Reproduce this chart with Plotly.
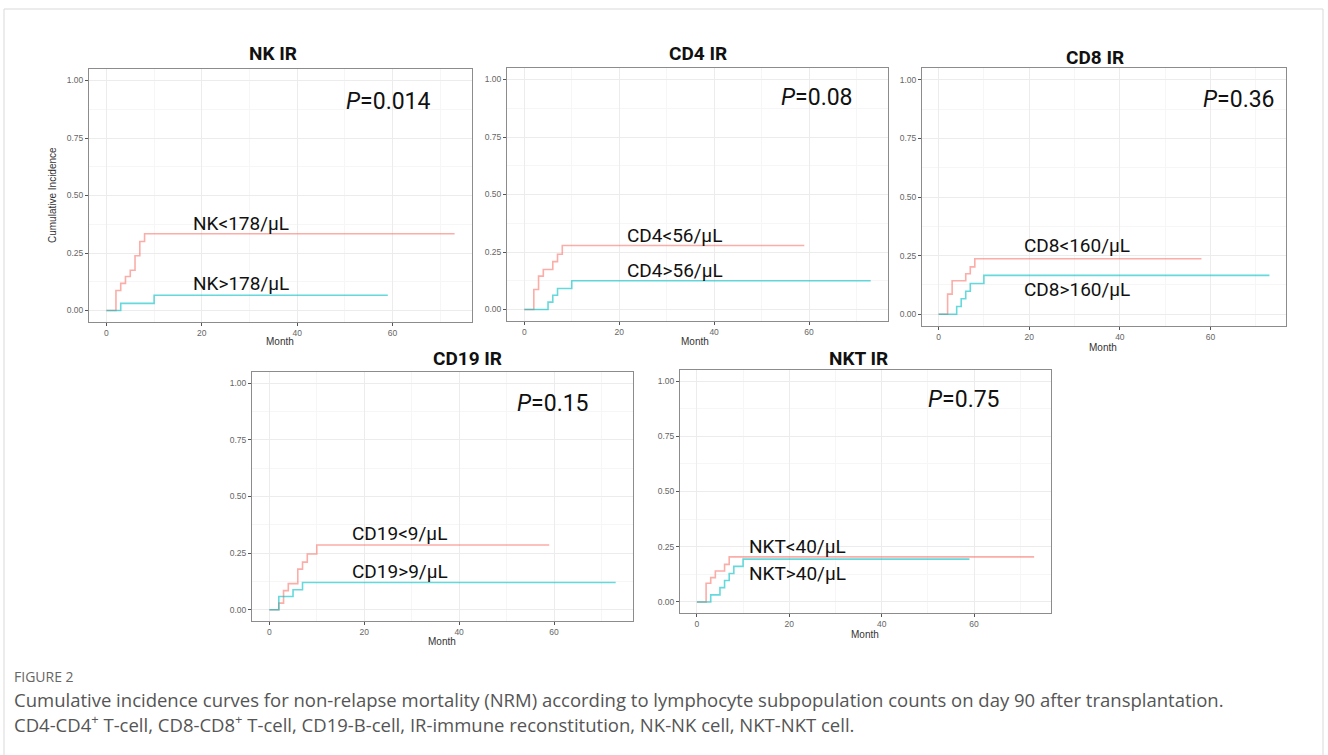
import plotly.graph_objects as go

W, H = 1328, 755

# Panel titles and group labels
panel_titles = ["NK IR", "CD4 IR", "CD8 IR", "CD19 IR", "NKT IR"]
p_values = ["0.014", "0.08", "0.36", "0.15", "0.75"]
low_labels = ["NK<178/μL", "CD4<56/μL", "CD8<160/μL", "CD19<9/μL", "NKT<40/μL"]
high_labels = ["NK>178/μL", "CD4>56/μL", "CD8>160/μL", "CD19>9/μL", "NKT>40/μL"]

# Cumulative incidence step curves (month, incidence) — low-count group
nk_low_t = [0, 2, 3, 4, 5, 6, 7, 8, 73]
nk_low_ci = [0, 0.087, 0.118, 0.148, 0.175, 0.238, 0.300, 0.334, 0.334]
cd4_low_t = [0, 2, 3, 4, 6, 7, 8, 59]
cd4_low_ci = [0, 0.087, 0.145, 0.174, 0.208, 0.240, 0.278, 0.278]
cd8_low_t = [0, 2, 3, 6, 7, 8, 58]
cd8_low_ci = [0, 0.086, 0.143, 0.173, 0.202, 0.237, 0.237]
cd19_low_t = [0, 2, 3, 4, 6, 7, 8, 10, 59]
cd19_low_ci = [0, 0.029, 0.084, 0.115, 0.179, 0.210, 0.246, 0.286, 0.286]
nkt_low_t = [0, 2, 3, 4, 6, 7, 73]
nkt_low_ci = [0, 0.085, 0.110, 0.140, 0.170, 0.204, 0.204]

# High-count group
nk_high_t = [0, 3, 10, 59]
nk_high_ci = [0, 0.031, 0.066, 0.066]
cd4_high_t = [0, 5, 6, 7, 10, 73]
cd4_high_ci = [0, 0.032, 0.062, 0.091, 0.125, 0.125]
cd8_high_t = [0, 4, 5, 6, 7, 10, 73]
cd8_high_ci = [0, 0.033, 0.066, 0.098, 0.131, 0.166, 0.166]
cd19_high_t = [0, 2, 5, 7, 73]
cd19_high_ci = [0, 0.058, 0.088, 0.120, 0.120]
nkt_high_t = [0, 3, 5, 6, 7, 8, 10, 59]
nkt_high_ci = [0, 0.032, 0.065, 0.097, 0.129, 0.161, 0.194, 0.194]

x_ticks = [0, 20, 40, 60]
y_ticks = [0, 0.25, 0.5, 0.75, 1.0]
y_tick_text = ["0.00", "0.25", "0.50", "0.75", "1.00"]

low_series = [(nk_low_t, nk_low_ci), (cd4_low_t, cd4_low_ci), (cd8_low_t, cd8_low_ci),
              (cd19_low_t, cd19_low_ci), (nkt_low_t, nkt_low_ci)]
high_series = [(nk_high_t, nk_high_ci), (cd4_high_t, cd4_high_ci), (cd8_high_t, cd8_high_ci),
               (cd19_high_t, cd19_high_ci), (nkt_high_t, nkt_high_ci)]

# Panel boxes in pixels: (left, top, right, bottom)
boxes = [(89, 69, 472, 322), (507, 68, 888, 321), (922, 68, 1286, 326),
         (252, 372, 633, 621), (680, 370, 1051, 613)]
title_pos = [(273, 53), (698, 53), (1095, 57), (467, 358), (858, 358)]
month_pos = [(280, 342), (695, 341), (1103, 347), (442, 641), (865, 634)]
# Label anchors in data units: (x, y_low, y_high, p_x, p_y)
label_pos = [(17.8, 0.38, 0.118, 49.9, 0.909),
             (21.2, 0.323, 0.171, 53.7, 0.923),
             (18.5, 0.293, 0.106, 57.9, 0.917),
             (16.9, 0.335, 0.169, 51.7, 0.912),
             (10.8, 0.253, 0.128, 49.5, 0.917)]

RED = "rgba(248,118,109,0.6)"
CYAN = "rgba(0,191,196,0.6)"
TICK_FONT = dict(family="Liberation Sans, Arial", size=8.5, color="#666666")

fig = go.Figure()
annotations = []

for i in range(5):
    ax = "" if i == 0 else str(i + 1)
    xa, ya = "x" + ax, "y" + ax
    l, t, r, b = boxes[i]
    fig.update_layout(**{
        "xaxis" + ax: dict(
            domain=[l / W, r / W], anchor=ya, range=[-3.65, 76.65],
            tickvals=x_ticks, ticks="outside", ticklen=3, tickcolor="#555555",
            tickfont=TICK_FONT, showgrid=True, gridcolor="#ececec", gridwidth=1,
            minor=dict(dtick=10, tick0=10, showgrid=True, gridcolor="#f6f6f6", ticks=""),
            showline=True, linecolor="#8c8c8c", linewidth=1, mirror=True,
            zeroline=False, fixedrange=True),
        "yaxis" + ax: dict(
            domain=[1 - b / H, 1 - t / H], anchor=xa, range=[-0.05, 1.05],
            tickvals=y_ticks, ticktext=y_tick_text, ticks="outside", ticklen=3,
            tickcolor="#555555", tickfont=TICK_FONT, showgrid=True,
            gridcolor="#ececec", gridwidth=1,
            minor=dict(dtick=0.25, tick0=0.125, showgrid=True, gridcolor="#f6f6f6", ticks=""),
            showline=True, linecolor="#8c8c8c", linewidth=1, mirror=True,
            zeroline=False, fixedrange=True),
    })
    lt, lc = low_series[i]
    ht, hc = high_series[i]
    fig.add_trace(go.Scatter(x=lt, y=lc, mode="lines", line=dict(color=RED, width=1.6, shape="hv"),
                             xaxis=xa, yaxis=ya, showlegend=False, hoverinfo="skip"))
    fig.add_trace(go.Scatter(x=ht, y=hc, mode="lines", line=dict(color=CYAN, width=1.6, shape="hv"),
                             xaxis=xa, yaxis=ya, showlegend=False, hoverinfo="skip"))

    tx, ty = title_pos[i]
    annotations.append(dict(text="<b>" + panel_titles[i] + "</b>", x=tx / W, y=1 - ty / H,
                            xref="paper", yref="paper", showarrow=False, xanchor="center",
                            yanchor="middle", font=dict(family="Roboto", size=19, color="#111111")))
    mx, my = month_pos[i]
    annotations.append(dict(text="Month", x=mx / W, y=1 - my / H, xref="paper", yref="paper",
                            showarrow=False, xanchor="center", yanchor="middle",
                            font=dict(family="Liberation Sans, Arial", size=10, color="#333333")))
    gx, gy_low, gy_high, px, py = label_pos[i]
    for lab, gy in ((low_labels[i], gy_low), (high_labels[i], gy_high)):
        annotations.append(dict(text=lab, x=gx, y=gy, xref=xa, yref=ya, showarrow=False,
                                xanchor="left", yanchor="middle",
                                font=dict(family="Roboto", size=19, color="#111111")))
    annotations.append(dict(text="<i>P</i>=" + p_values[i], x=px, y=py, xref=xa, yref=ya,
                            showarrow=False, xanchor="left", yanchor="middle",
                            font=dict(family="Roboto", size=23, color="#111111")))

annotations.append(dict(text="Cumulative Incidence", x=52 / W, y=1 - 195 / H, xref="paper",
                        yref="paper", showarrow=False, textangle=-90, xanchor="center",
                        yanchor="middle",
                        font=dict(family="Liberation Sans, Arial", size=10, color="#333333")))

# Caption block
annotations.append(dict(text="FIGURE 2", x=12 / W, y=1 - 676 / H, xref="paper", yref="paper",
                        showarrow=False, xanchor="left", yanchor="middle",
                        font=dict(family="Open Sans", size=14, color="#666666")))
annotations.append(dict(
    text="Cumulative incidence curves for non-relapse mortality (NRM) according to lymphocyte "
         "subpopulation counts on day 90 after transplantation.",
    x=12 / W, y=1 - 699 / H, xref="paper", yref="paper", showarrow=False, xanchor="left",
    yanchor="middle", font=dict(family="Open Sans", size=18.5, color="#555555")))
annotations.append(dict(
    text="CD4-CD4<sup>+</sup> T-cell, CD8-CD8<sup>+</sup> T-cell, CD19-B-cell, "
         "IR-immune reconstitution, NK-NK cell, NKT-NKT cell.",
    x=12 / W, y=1 - 723 / H, xref="paper", yref="paper", showarrow=False, xanchor="left",
    yanchor="middle", font=dict(family="Open Sans", size=18.5, color="#555555")))

fig.update_layout(
    width=W, height=H, margin=dict(l=0, r=0, t=0, b=0),
    paper_bgcolor="white", plot_bgcolor="white",
    annotations=annotations,
    shapes=[dict(type="rect", xref="paper", yref="paper", x0=4 / W, x1=1323 / W,
                 y0=-0.05, y1=1 - 9 / H, line=dict(color="#d9d9d9", width=1),
                 fillcolor="rgba(0,0,0,0)", layer="below")],
)

fig.write_html("out.html")
